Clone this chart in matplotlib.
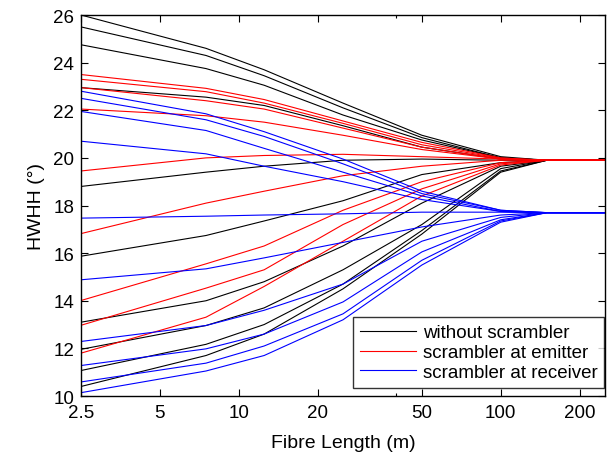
import matplotlib
matplotlib.use("Agg")
import matplotlib.pyplot as plt
from matplotlib.ticker import FixedLocator, NullFormatter, FixedFormatter

plt.rcParams['font.family'] = ['Liberation Sans', 'DejaVu Sans']

fibre_length = [2.5, 7.5, 12.5, 25, 50, 100, 150, 250]

without_scrambler = [
    [26.0, 24.6, 23.7, 22.3, 20.95, 20.05, 19.9, 19.9],
    [25.5, 24.3, 23.45, 22.1, 20.85, 20.0, 19.9, 19.9],
    [24.75, 23.75, 23.05, 21.8, 20.75, 20.0, 19.9, 19.9],
    [22.95, 22.55, 22.2, 21.35, 20.45, 19.95, 19.9, 19.9],
    [18.8, 19.4, 19.65, 19.9, 19.95, 19.9, 19.9, 19.9],
    [15.87, 16.74, 17.35, 18.2, 19.3, 19.8, 19.9, 19.9],
    [13.1, 14.0, 14.8, 16.3, 18.1, 19.65, 19.9, 19.9],
    [11.96, 12.96, 13.7, 15.3, 17.2, 19.55, 19.9, 19.9],
    [11.07, 12.17, 13.0, 14.7, 16.95, 19.45, 19.9, 19.9],
    [10.4, 11.7, 12.6, 14.5, 16.8, 19.4, 19.9, 19.9],
]

scrambler_emitter = [
    [23.5, 22.92, 22.45, 21.55, 20.65, 20.0, 19.9, 19.9],
    [23.3, 22.78, 22.3, 21.45, 20.55, 19.98, 19.9, 19.9],
    [22.95, 22.4, 22.05, 21.25, 20.45, 19.95, 19.9, 19.9],
    [22.05, 21.77, 21.5, 20.95, 20.35, 19.95, 19.9, 19.9],
    [19.45, 20.0, 20.1, 20.15, 20.05, 19.95, 19.9, 19.9],
    [16.82, 18.1, 18.6, 19.25, 19.65, 19.9, 19.9, 19.9],
    [14.01, 15.55, 16.3, 17.8, 19.0, 19.8, 19.9, 19.9],
    [12.97, 14.53, 15.3, 17.2, 18.7, 19.75, 19.9, 19.9],
    [11.8, 13.31, 14.6, 16.5, 18.4, 19.7, 19.9, 19.9],
]

scrambler_receiver = [
    [22.8, 21.85, 21.1, 19.95, 18.6, 17.8, 17.7, 17.7],
    [22.5, 21.6, 20.9, 19.75, 18.5, 17.8, 17.7, 17.7],
    [21.95, 21.15, 20.4, 19.4, 18.4, 17.75, 17.7, 17.7],
    [20.7, 20.17, 19.65, 19.0, 18.25, 17.75, 17.7, 17.7],
    [17.47, 17.55, 17.6, 17.65, 17.72, 17.72, 17.7, 17.7],
    [14.88, 15.34, 15.8, 16.45, 17.1, 17.6, 17.7, 17.7],
    [12.29, 12.96, 13.6, 14.7, 16.5, 17.5, 17.7, 17.7],
    [11.28, 11.98, 12.6, 13.95, 16.05, 17.4, 17.7, 17.7],
    [10.59, 11.38, 12.1, 13.45, 15.7, 17.35, 17.7, 17.7],
    [10.14, 11.05, 11.7, 13.2, 15.5, 17.3, 17.7, 17.7],
]

series_labels = ["without scrambler", "scrambler at emitter", "scrambler at receiver"]
x_ticks = [2.5, 5, 10, 20, 50, 100, 200]
x_tick_labels = ["2.5", "5", "10", "20", "50", "100", "200"]
y_ticks = [10, 12, 14, 16, 18, 20, 22, 24, 26]

fig = plt.figure(figsize=(6.08, 4.60), dpi=100)
ax = fig.add_axes([81/608, 1-397/460, (605-81)/608, (397-16)/460])

groups = [(without_scrambler, "#000000"), (scrambler_emitter, "#ff0000"), (scrambler_receiver, "#0000ff")]
for (data, color), label in zip(groups, series_labels):
    for i, ys in enumerate(data):
        ax.plot(fibre_length, ys, color=color, lw=0.8, label=label if i == 0 else None)

ax.set_xscale('log')
ax.set_xlim(2.5, 250)
ax.set_ylim(10, 26)
ax.xaxis.set_major_locator(FixedLocator(x_ticks))
ax.xaxis.set_major_formatter(FixedFormatter(x_tick_labels))
ax.xaxis.set_minor_locator(FixedLocator([40]))
ax.xaxis.set_minor_formatter(NullFormatter())
ax.set_yticks(y_ticks)
ax.tick_params(which='both', direction='in', top=True, right=True, labelsize=13.5, width=0.8)
ax.tick_params(which='major', length=5)
ax.tick_params(which='minor', length=2.5)
ax.tick_params(axis='x', pad=6)
ax.tick_params(axis='y', pad=5)
for s in ax.spines.values():
    s.set_linewidth(1.0)

ax.set_xlabel("Fibre Length (m)", fontsize=14, labelpad=9)
ax.set_ylabel("HWHH (°)", fontsize=14, labelpad=6)

leg = ax.legend(loc='lower right', bbox_to_anchor=(0.998, 0.022), fontsize=13.5, frameon=True,
                fancybox=False, edgecolor='black', handlelength=3.0, handletextpad=0.35,
                borderpad=0.35, labelspacing=0.15, borderaxespad=0.0)
leg.get_frame().set_linewidth(1.0)

fig.savefig("out.png", dpi=100)
